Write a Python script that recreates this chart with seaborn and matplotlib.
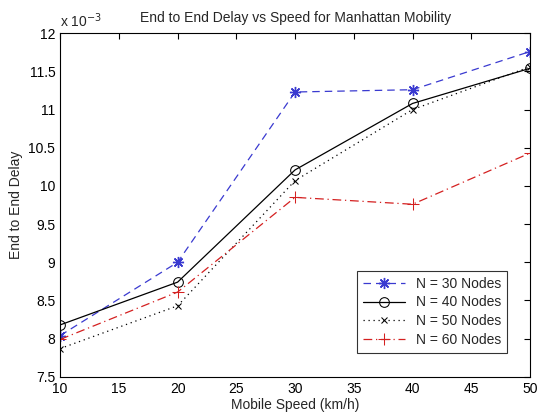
import matplotlib
matplotlib.use("Agg")
import matplotlib.pyplot as plt
import seaborn as sns
import pandas as pd
from matplotlib.ticker import FormatStrFormatter

speeds = [10, 20, 30, 40, 50]
delay_n30 = [8.04, 9.00, 11.23, 11.26, 11.76]
delay_n40 = [8.18, 8.74, 10.21, 11.08, 11.54]
delay_n50 = [7.87, 8.43, 10.07, 11.00, 11.56]
delay_n60 = [7.99, 8.61, 9.85, 9.76, 10.43]
labels = ["N = 30 Nodes", "N = 40 Nodes", "N = 50 Nodes", "N = 60 Nodes"]

sns.set_style("white")
plt.rcParams['font.family'] = ['Liberation Sans', 'DejaVu Sans']
plt.rcParams['font.size'] = 10

fig = plt.figure(figsize=(5.37, 4.15), dpi=100)
ax = fig.add_axes([0.112, 0.092, 0.875, 0.828])

series = [delay_n30, delay_n40, delay_n50, delay_n60]
styles = [
    dict(color="#3a3ad0", linestyle=(0, (6, 4)), marker=(8, 2, 0), markersize=8, markeredgewidth=1.0,
         markeredgecolor="#3a3ad0", linewidth=0.9),
    dict(color="black", linestyle="-", marker="o", markersize=7, markerfacecolor="none",
         markeredgecolor="black", linewidth=0.9),
    dict(color="black", linestyle=(0, (1, 3)), marker="x", markersize=5, markeredgecolor="black", linewidth=0.9),
    dict(color="#d42020", linestyle=(0, (7, 3, 1, 3)), marker="+", markersize=9, markeredgecolor="#d42020",
         linewidth=0.9),
]
for vals, lab, st in zip(series, labels, styles):
    df = pd.DataFrame({"speed": speeds, "delay": vals})
    sns.lineplot(data=df, x="speed", y="delay", ax=ax, label=lab, **st)

ax.set_xlim(10, 50)
ax.set_ylim(7.5, 12)
ax.set_xticks(range(10, 51, 5))
ax.set_yticks([7.5 + 0.5 * i for i in range(10)])
ax.yaxis.set_major_formatter(FormatStrFormatter('%g'))
ax.tick_params(direction="in", top=True, right=True, length=4, labelsize=10, colors="black")
for s in ax.spines.values():
    s.set_color("black")
    s.set_linewidth(0.8)
ax.set_xlabel("Mobile Speed (km/h)", fontsize=10, labelpad=2)
ax.set_ylabel("End to End Delay", fontsize=10)
ax.set_title("End to End Delay vs Speed for Manhattan Mobility", fontsize=10, pad=8)
ax.text(0.0, 1.01, r"x 10$^{-3}$", transform=ax.transAxes, fontsize=10, ha="left", va="bottom")

leg = ax.legend(loc="lower right", bbox_to_anchor=(0.95, 0.07), frameon=True, fancybox=False,
                edgecolor="black", fontsize=10, handlelength=3, borderpad=0.4, labelspacing=0.35,
                borderaxespad=0.0)
leg.get_frame().set_linewidth(0.8)

fig.savefig("out.png", dpi=100)
